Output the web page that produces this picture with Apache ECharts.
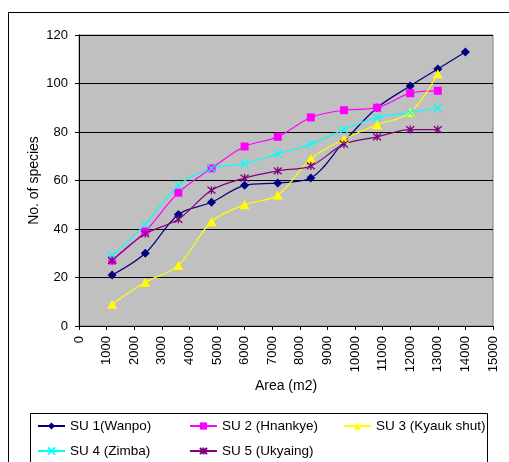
<!DOCTYPE html>
<html>
<head>
<meta charset="utf-8">
<script src="https://cdn.jsdelivr.net/npm/echarts@6/dist/echarts.min.js"></script>
<style>
  html, body { margin: 0; padding: 0; background: #fff; }
  #chart { width: 509px; height: 462px; }
</style>
</head>
<body>
<div id="chart"></div>
<script>
// Sampling areas (m2) and cumulative species counts per sampling unit
const areas = [1200, 2400, 3600, 4800, 6000, 7200, 8400, 9600, 10800, 12000, 13000];
const areasWanpo = [1200, 2400, 3600, 4800, 6000, 7200, 8400, 9600, 10800, 12000, 13000, 14000];

const wanpo   = [21, 30, 46, 51, 58, 59, 61, 76, 90, 99, 106, 113];
const hnankye = [27, 39, 55, 65, 74, 78, 86, 89, 90, 96, 97];
const kyauk   = [9, 18, 25, 43, 50, 54, 69, 77, 83, 88, 104];
const zimba   = [29, 42, 58, 65, 67, 71, 75, 81, 86, 88, 90];
const ukyaing = [27, 38, 44, 56, 61, 64, 66, 75, 78, 81, 81];

const seriesNames = ['SU 1(Wanpo)', 'SU 2 (Hnankye)', 'SU 3 (Kyauk shut)', 'SU 4 (Zimba)', 'SU 5 (Ukyaing)'];

const pair = (xs, ys) => ys.map((v, i) => [xs[i], v]);

const FONT = 'Liberation Sans, Arial, sans-serif';
const crossPath = 'path://M0,0L10,10M10,0L0,10';
const starPath = 'path://M0,0L10,10M10,0L0,10M5,-1L5,11';

function lineSeries(name, data, color, symbol, size, stroke) {
  return {
    name: name,
    type: 'line',
    data: data,
    smooth: 0.33,
    symbol: symbol,
    symbolSize: size,
    showAllSymbol: true,
    lineStyle: { color: color, width: 1.2 },
    itemStyle: stroke
      ? { color: color, borderColor: color, borderWidth: 1.3 }
      : { color: color, borderWidth: 0 },
    emphasis: { disabled: true },
    z: 3
  };
}

const chart = echarts.init(document.getElementById('chart'), null, { renderer: 'canvas' });

const legendBase = {
  orient: 'vertical',
  padding: 0,
  itemWidth: 27,
  itemHeight: 9,
  itemGap: 11,
  height: 70,
  selectedMode: false,
  textStyle: { fontFamily: FONT, fontSize: 13.5, color: '#000' }
};

chart.setOption({
  backgroundColor: '#fff',
  animation: false,
  textStyle: { fontFamily: FONT },
  graphic: [
    {
      type: 'rect',
      shape: { x: 8.5, y: 12.5, width: 600, height: 600 },
      style: { fill: 'none', stroke: '#000', lineWidth: 1 },
      z: -1
    },
    {
      type: 'rect',
      shape: { x: 30.5, y: 413.5, width: 457, height: 100 },
      style: { fill: '#fff', stroke: '#000', lineWidth: 1 },
      z: 0
    }
  ],
  grid: {
    show: true,
    left: 79, top: 35, right: 16, bottom: 136,
    backgroundColor: '#C0C0C0',
    borderColor: '#808080',
    borderWidth: 1
  },
  legend: [
    Object.assign({}, legendBase, { left: 37, top: 419, data: [seriesNames[0], seriesNames[3]] }),
    Object.assign({}, legendBase, { left: 189, top: 419, data: [seriesNames[1], seriesNames[4]] }),
    Object.assign({}, legendBase, { left: 343, top: 419, data: [seriesNames[2]] })
  ],
  xAxis: {
    type: 'value',
    min: 0, max: 15000, interval: 1000,
    name: 'Area (m2)',
    nameLocation: 'middle',
    nameGap: 53,
    nameMoveOverlap: false,
    nameTextStyle: { fontFamily: FONT, fontSize: 14, color: '#000' },
    axisLine: { show: true, onZero: false, lineStyle: { color: '#000', width: 1 } },
    axisTick: { show: true, length: 4, lineStyle: { color: '#000' } },
    axisLabel: {
      rotate: 90, margin: 10, fontFamily: FONT, fontSize: 13, color: '#000',
      formatter: (v) => String(v)
    },
    splitLine: { show: false }
  },
  yAxis: {
    type: 'value',
    min: 0, max: 120, interval: 20,
    name: 'No. of species',
    nameLocation: 'middle',
    nameRotate: 90,
    nameGap: 38,
    nameMoveOverlap: false,
    nameTextStyle: { fontFamily: FONT, fontSize: 14, color: '#000' },
    axisLine: { show: true, lineStyle: { color: '#000', width: 1 } },
    axisTick: { show: true, length: 4, lineStyle: { color: '#000' } },
    axisLabel: { margin: 11, fontFamily: FONT, fontSize: 13, color: '#000' },
    splitLine: { show: true, lineStyle: { color: '#000', width: 1 } }
  },
  series: [
    lineSeries(seriesNames[0], pair(areasWanpo, wanpo), '#000080', 'diamond', [9, 9], false),
    lineSeries(seriesNames[1], pair(areas, hnankye), '#FF00FF', 'rect', [8, 8], false),
    lineSeries(seriesNames[2], pair(areas, kyauk), '#FFFF00', 'triangle', [10, 9], false),
    lineSeries(seriesNames[3], pair(areas, zimba), '#00FFFF', crossPath, [8, 8], true),
    lineSeries(seriesNames[4], pair(areas, ukyaing), '#800080', starPath, [8, 8], true)
  ]
});
</script>
</body>
</html>
